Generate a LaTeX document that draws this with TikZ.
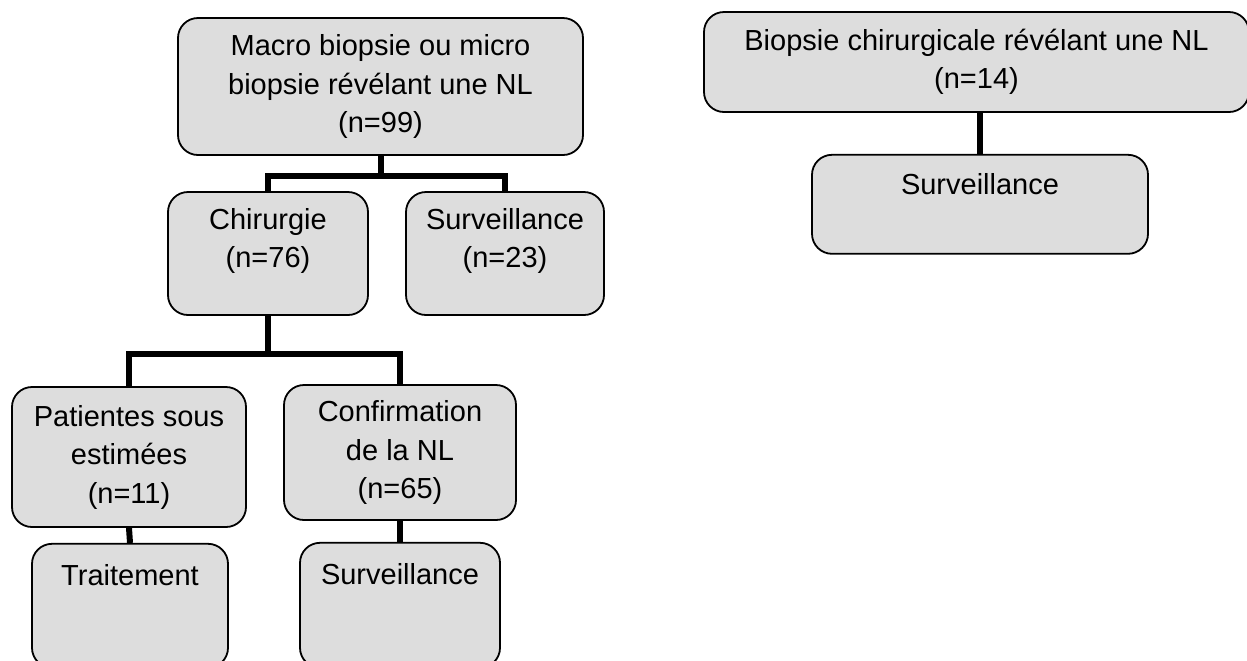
\documentclass[tikz,border=0pt]{standalone}
\usepackage{fontspec}
\setmainfont{Liberation Sans}
\usepackage{tikz}
\usetikzlibrary{positioning}
\definecolor{boxgray}{HTML}{DDDDDD}
\tikzset{
  flowbox/.style={draw=black, line width=0.9pt, fill=boxgray, rounded corners=10pt,
    align=center, inner sep=2pt, font=\fontsize{14.5}{19.25}\selectfont},
  branch/.style={line width=3pt, black, line join=miter},
}

\begin{document}
\begin{tikzpicture}[x=0.5pt, y=-0.5pt]
\useasboundingbox (0,0) rectangle (1247,660);
\node[flowbox, minimum width=202.5pt, minimum height=68.5pt] (macro) at (380.5,86.5) {Macro biopsie ou micro\\biopsie révélant une NL\\(n=99)};
\node[flowbox, minimum width=100pt, minimum height=61.5pt, text depth=15.4pt] (chir) at (268,253.5) {Chirurgie\\(n=76)};
\node[flowbox, minimum width=99pt, minimum height=61.5pt, text depth=15.4pt] (surv23) at (505,253.5) {Surveillance\\(n=23)};
\node[flowbox, minimum width=117pt, minimum height=70pt] (patient) at (129,457) {Patientes sous\\estimées\\(n=11)};
\node[flowbox, minimum width=116pt, minimum height=67.5pt] (confirm) at (400,452.5) {Confirmation\\de la NL\\(n=65)};
\node[flowbox, minimum width=98pt, minimum height=62pt, text depth=31pt, below=7.5pt of patient, xshift=0.5pt] (treat) {Traitement};
\node[flowbox, minimum width=100pt, minimum height=62.5pt, text depth=31pt, below=10.5pt of confirm] (surv65) {Surveillance};
\node[flowbox, minimum width=272.5pt, minimum height=50pt] (biopsy) at (976.5,62) {Biopsie chirurgicale révélant une NL\\(n=14)};
\node[flowbox, minimum width=168pt, minimum height=49.5pt, text depth=20pt, below=20.5pt of biopsy, xshift=1.75pt] (survR) {Surveillance};
\draw[branch] (macro.south) -- ++(0,20) -| (chir.north);
\draw[branch] (macro.south) -- ++(0,20) -| (surv23.north);
\draw[branch] (chir.south) -- ++(0,38) -| (patient.north);
\draw[branch] (chir.south) -- ++(0,38) -| (confirm.north);
\draw[branch] (patient.south) -- (treat.north);
\draw[branch] (confirm.south) -- (surv65.north);
\draw[branch] (biopsy.south -| survR.north) -- (survR.north);
\end{tikzpicture}
\end{document}
